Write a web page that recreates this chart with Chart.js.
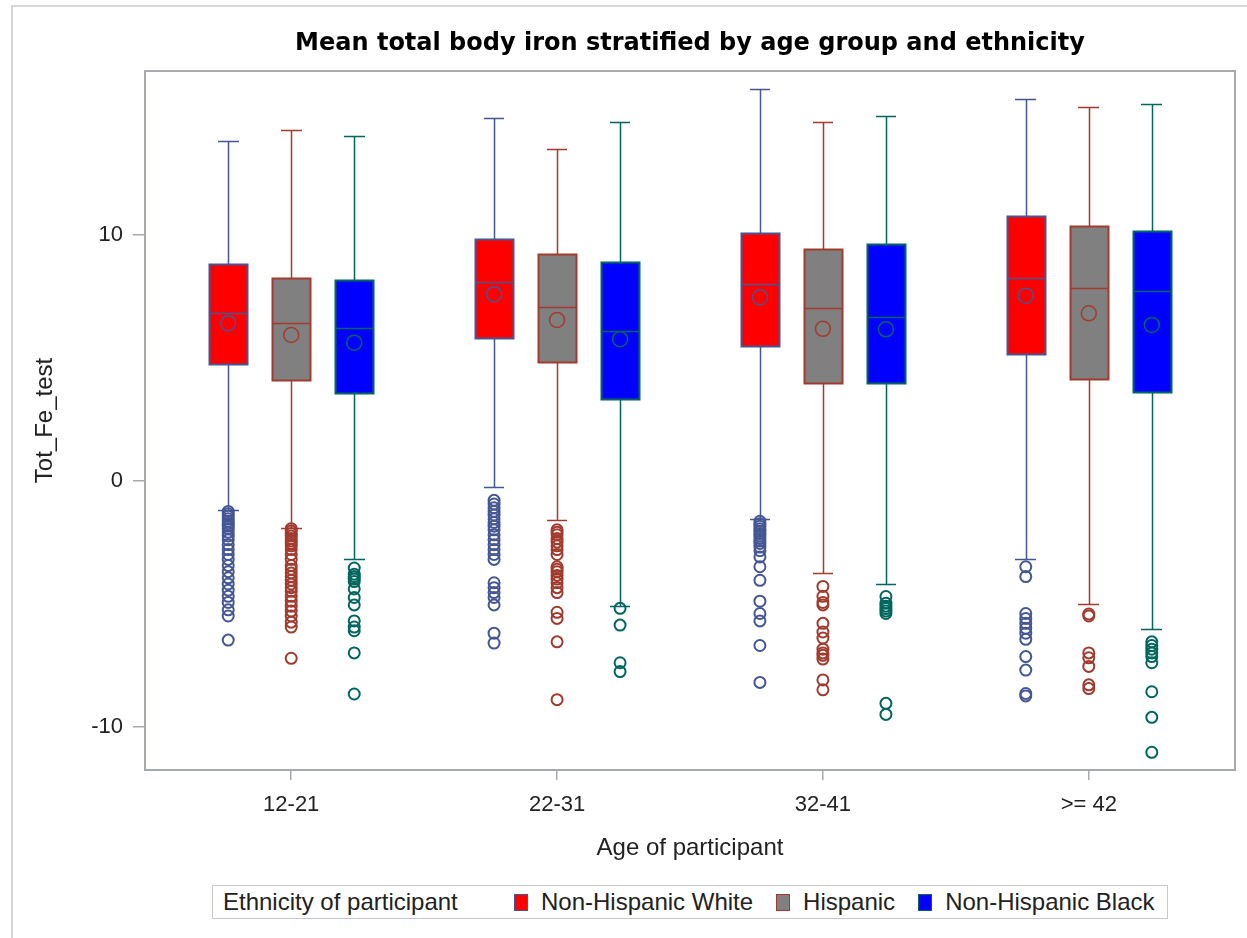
<!DOCTYPE html>
<html>
<head>
<meta charset="utf-8">
<title>Mean total body iron stratified by age group and ethnicity</title>
<script src="https://cdn.jsdelivr.net/npm/chart.js@4.4.1/dist/chart.umd.min.js"></script>
<style>
  html, body { margin: 0; padding: 0; background: #fff; }
  #wrap { position: relative; width: 1247px; height: 938px; overflow: hidden; }
  #frame { position: absolute; left: 11px; top: 5px; right: -4px; bottom: -4px; border-left: 2px solid #d6d6d6; border-top: 2px solid #d6d6d6; }
  #chart { position: absolute; left: 0; top: 0; }
  #legend {
    position: absolute; left: 212px; top: 885px; height: 32px;
    border: 1px solid #c8c8c8; background: #fff;
    display: flex; align-items: center; padding: 0 12px 0 10px;
    font: 24px 'Liberation Sans', Arial, sans-serif; color: #222; white-space: nowrap;
  }
  #legend .ttl { display: inline-block; width: 248px; }
  #legend .sw { display: inline-block; width: 14px; height: 17px; box-sizing: border-box; border: 1.5px solid; margin: 0 13px 0 23px; }
  #legend .sw.first { margin-left: 43px; }
</style>
</head>
<body>
<div id="wrap">
  <div id="frame"></div>
  <canvas id="chart" width="1247" height="938"></canvas>
  <div id="legend"></div>
</div>
<script>
// ---- data (Tot_Fe_test) ----
const ageGroups = ['12-21', '22-31', '32-41', '>= 42'];
const ethnicities = ['Non-Hispanic White', 'Hispanic', 'Non-Hispanic Black'];
const yTickValues = [-10, 0, 10];

// [ethnicity][age group]
const whiskerHigh = [[13.80, 14.73, 15.92, 15.53], [14.26, 13.47, 14.58, 15.20], [14.01, 14.58, 14.81, 15.30]];
const q3Values    = [[8.80, 9.83, 10.06, 10.77], [8.23, 9.20, 9.42, 10.37], [8.15, 8.88, 9.61, 10.14]];
const medians     = [[6.80, 8.09, 8.00, 8.23], [6.40, 7.05, 7.03, 7.82], [6.20, 6.10, 6.65, 7.71]];
const means       = [[6.40, 7.58, 7.45, 7.52], [5.92, 6.53, 6.17, 6.80], [5.61, 5.75, 6.15, 6.33]];
const q1Values    = [[4.74, 5.79, 5.48, 5.14], [4.09, 4.81, 3.96, 4.12], [3.55, 3.31, 3.96, 3.62]];
const whiskerLow  = [[-1.19, -0.26, -1.54, -3.18], [-1.91, -1.60, -3.74, -5.02], [-3.18, -5.08, -4.21, -6.04]];

const outliersWhite = [
  [-1.25, -1.35, -1.45, -1.55, -1.65, -1.75, -1.85, -1.95, -2.1, -2.25, -2.4, -2.6, -2.8, -3.0, -3.2, -3.45, -3.7, -3.95, -4.2, -4.45, -4.7, -4.95, -5.25, -5.5, -6.48],
  [-0.8, -0.95, -1.1, -1.25, -1.4, -1.55, -1.7, -1.85, -2.0, -2.2, -2.4, -2.6, -2.8, -3.0, -3.2, -4.15, -4.35, -4.55, -4.75, -5.05, -6.2, -6.6],
  [-1.65, -1.75, -1.85, -1.95, -2.05, -2.15, -2.25, -2.35, -2.45, -2.55, -2.7, -2.85, -3.1, -3.5, -4.05, -4.9, -5.4, -5.7, -6.7, -8.2],
  [-3.5, -3.9, -5.4, -5.6, -5.8, -6.0, -6.2, -6.45, -7.15, -7.7, -8.65, -8.75]
];
const outliersHispanic = [
  [-1.95, -2.05, -2.15, -2.25, -2.35, -2.45, -2.55, -2.65, -2.8, -3.0, -3.2, -3.45, -3.6, -3.75, -3.9, -4.05, -4.2, -4.35, -4.5, -4.7, -4.9, -5.1, -5.3, -5.5, -5.75, -5.95, -7.22],
  [-2.0, -2.1, -2.2, -2.35, -2.5, -2.65, -2.8, -3.0, -3.5, -3.6, -3.7, -3.85, -4.0, -4.15, -4.35, -4.55, -5.35, -5.6, -6.55, -8.9],
  [-4.3, -4.7, -4.95, -5.05, -5.8, -6.15, -6.4, -6.85, -7.0, -7.1, -7.25, -8.1, -8.5],
  [-5.42, -5.5, -7.0, -7.2, -7.55, -8.3, -8.45]
];
const outliersBlack = [
  [-3.55, -3.8, -3.9, -4.0, -4.1, -4.4, -4.75, -5.05, -5.7, -5.95, -6.1, -7.0, -8.67],
  [-5.19, -5.87, -7.4, -7.76],
  [-4.71, -4.98, -5.1, -5.2, -5.3, -5.4, -9.05, -9.5],
  [-6.55, -6.7, -6.85, -7.0, -7.15, -7.4, -8.58, -9.62, -11.04]
];
const outliers = [outliersWhite, outliersHispanic, outliersBlack];

// ---- styling ----
const fillColors = ['#ff0000', '#808080', '#0000ff'];
const lineColors = ['#445694', '#a23a2e', '#01665e'];
const SLOT = 0.237;      // offset of each ethnicity inside an age group (x units)
const BOX_HALF = 0.071;  // half box width
const CAP_HALF = 0.039;  // half whisker cap width
const FONT = "'Liberation Sans', Arial, sans-serif";

function slotX(e, g) { return g + 1 + (e - 1) * SLOT; }

const boxPlotPlugin = {
    id: 'boxPlot',
    beforeDatasetsDraw(chart) {
        const ctx = chart.ctx, xs = chart.scales.x, ys = chart.scales.y;
        ctx.save();
        ethnicities.forEach(function(name, e) {
            ageGroups.forEach(function(label, g) {
                const pos = slotX(e, g);
                const cx = Math.round(xs.getPixelForValue(pos)) + 0.5;
                const left = Math.round(xs.getPixelForValue(pos - BOX_HALF)) + 0.5;
                const right = Math.round(xs.getPixelForValue(pos + BOX_HALF)) + 0.5;
                const capL = Math.round(xs.getPixelForValue(pos - CAP_HALF));
                const capR = Math.round(xs.getPixelForValue(pos + CAP_HALF));
                const yHi = Math.round(ys.getPixelForValue(whiskerHigh[e][g])) + 0.5;
                const yQ3 = Math.round(ys.getPixelForValue(q3Values[e][g])) + 0.5;
                const yMed = Math.round(ys.getPixelForValue(medians[e][g])) + 0.5;
                const yQ1 = Math.round(ys.getPixelForValue(q1Values[e][g])) + 0.5;
                const yLo = Math.round(ys.getPixelForValue(whiskerLow[e][g])) + 0.5;

                ctx.strokeStyle = lineColors[e];
                ctx.lineWidth = 1.5;
                ctx.beginPath();
                ctx.moveTo(cx, yQ3); ctx.lineTo(cx, yHi);
                ctx.moveTo(capL, yHi); ctx.lineTo(capR, yHi);
                ctx.moveTo(cx, yQ1); ctx.lineTo(cx, yLo);
                ctx.moveTo(capL, yLo); ctx.lineTo(capR, yLo);
                ctx.stroke();

                ctx.fillStyle = fillColors[e];
                ctx.fillRect(left, yQ3, right - left, yQ1 - yQ3);
                ctx.lineWidth = 2;
                ctx.strokeRect(left, yQ3, right - left, yQ1 - yQ3);
                ctx.lineWidth = 1.5;
                ctx.beginPath();
                ctx.moveTo(left, yMed); ctx.lineTo(right, yMed);
                ctx.stroke();
            });
        });
        ctx.restore();
    },
    afterDatasetsDraw(chart) {
        const ctx = chart.ctx, a = chart.chartArea;
        ctx.save();
        ctx.strokeStyle = '#a6aaae';
        ctx.lineWidth = 2;
        ctx.strokeRect(a.left, a.top, a.right - a.left, a.bottom - a.top);
        ctx.restore();
    }
};

const datasets = [];
ethnicities.forEach(function(name, e) {
    datasets.push({
        label: name + ' outliers',
        data: outliers[e].flatMap(function(vals, g) { return vals.map(function(v) { return { x: slotX(e, g), y: v }; }); }),
        pointStyle: 'circle', pointRadius: 5.5, pointBorderWidth: 2,
        pointBorderColor: lineColors[e], pointBackgroundColor: 'rgba(0,0,0,0)'
    });
    datasets.push({
        label: name + ' mean',
        data: means[e].map(function(v, g) { return { x: slotX(e, g), y: v }; }),
        pointStyle: 'circle', pointRadius: 7.5, pointBorderWidth: 1.5,
        pointBorderColor: lineColors[e], pointBackgroundColor: 'rgba(0,0,0,0)'
    });
});

new Chart(document.getElementById('chart'), {
    type: 'scatter',
    data: { datasets: datasets },
    plugins: [boxPlotPlugin],
    options: {
        responsive: false,
        animation: false,
        events: [],
        layout: { padding: { left: 0, right: 12, top: 0, bottom: 68 } },
        plugins: {
            legend: { display: false },
            tooltip: { enabled: false },
            title: {
                display: true,
                fullSize: false,
                text: 'Mean total body iron stratified by age group and ethnicity',
                color: '#000',
                font: { family: "'DejaVu Sans', Verdana, sans-serif", size: 24, weight: 'bold' },
                padding: { top: 29, bottom: 13.2 }
            }
        },
        scales: {
            x: {
                type: 'linear', min: 0.45, max: 4.55,
                afterFit: function(s) { s.height = 100; },
                afterBuildTicks: function(s) { s.ticks = ageGroups.map(function(c, i) { return { value: i + 1 }; }); },
                grid: { display: true, drawOnChartArea: false, drawTicks: true, tickLength: 10, color: '#a6aaae', lineWidth: 1.5 },
                border: { display: false },
                ticks: {
                    autoSkip: false, maxRotation: 0, padding: 12, color: '#222',
                    font: { family: FONT, size: 22 },
                    callback: function(v) { return ageGroups[Math.round(v) - 1] || ''; }
                },
                title: { display: true, text: 'Age of participant', color: '#222', font: { family: FONT, size: 24 }, padding: { top: 0, bottom: 7.6 } }
            },
            y: {
                type: 'linear', min: -11.76, max: 16.65,
                afterFit: function(s) { s.width = 145; },
                afterBuildTicks: function(s) { s.ticks = yTickValues.map(function(v) { return { value: v }; }); },
                grid: { display: true, drawOnChartArea: false, drawTicks: true, tickLength: 12, color: '#a6aaae', lineWidth: 1.5 },
                border: { display: false },
                ticks: {
                    padding: 10, color: '#222',
                    font: { family: FONT, size: 22 },
                    callback: function(v) { return String(v); }
                },
                title: { display: true, text: 'Tot_Fe_test', color: '#222', font: { family: FONT, size: 24 }, padding: { top: 31, bottom: 0 } }
            }
        }
    }
});

// legend below the chart
const legendEl = document.getElementById('legend');
legendEl.innerHTML = '<span class="ttl">Ethnicity of participant</span>' + ethnicities.map(function(name, e) {
    return '<span class="sw' + (e === 0 ? ' first' : '') + '" style="background:' + fillColors[e] + ';border-color:' + lineColors[e] + '"></span><span>' + name + '</span>';
}).join('');
</script>
</body>
</html>
